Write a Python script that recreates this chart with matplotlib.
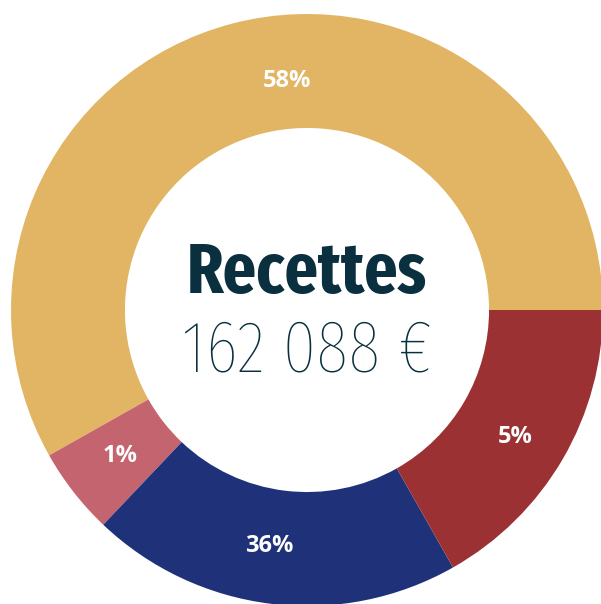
import numpy as np
import matplotlib.pyplot as plt

# parts of the ring, counter-clockwise from 3 o'clock (share of the circle, %)
shares = [58.2, 4.75, 20.3, 16.8]
labels = ['58%', '1%', '36%', '5%']
colors = ['#E1B563', '#C4646E', '#1F3179', '#9B3133']

title = 'Recettes'
total = '162 088 €'

# small nudges for the % labels (degrees, radius)
label_shift = [-9.8, 0, -2, -1.2]
label_r = [0.775, 0.80, 0.807, 0.823]

W, H = 601, 604
cx, cy, R = 307, 310, 296  # pixel centre / outer radius
fig = plt.figure(figsize=(W / 100, H / 100), dpi=100)
ax = fig.add_axes([0, 0, 1, 1])
ax.axis('off')

ring = 0.385
wedges, _ = ax.pie(shares, colors=colors, startangle=0, counterclock=True,
                   radius=1, wedgeprops=dict(width=ring, linewidth=0))
ax.set_xlim(-cx / R, (W - cx) / R)
ax.set_ylim(-(H - cy) / R, cy / R)
ax.set_aspect('auto')

for w, lab, d, r in zip(wedges, labels, label_shift, label_r):
    a = np.deg2rad((w.theta1 + w.theta2) / 2 + d)
    ax.text(r * np.cos(a), r * np.sin(a), lab, color='white',
            ha='center', va='center', fontsize=17, fontweight='bold',
            family='Open Sans')

ax.text(0, 0.125, title, ha='center', va='center', fontsize=51,
        fontweight='bold', family='Fira Sans Extra Condensed', color='#0A3040')
ax.text(0, -0.14, total, ha='center', va='center', fontsize=53,
        fontweight='light', family='Fira Sans Extra Condensed', color='#0A3040')

fig.savefig('out.png', dpi=100)
